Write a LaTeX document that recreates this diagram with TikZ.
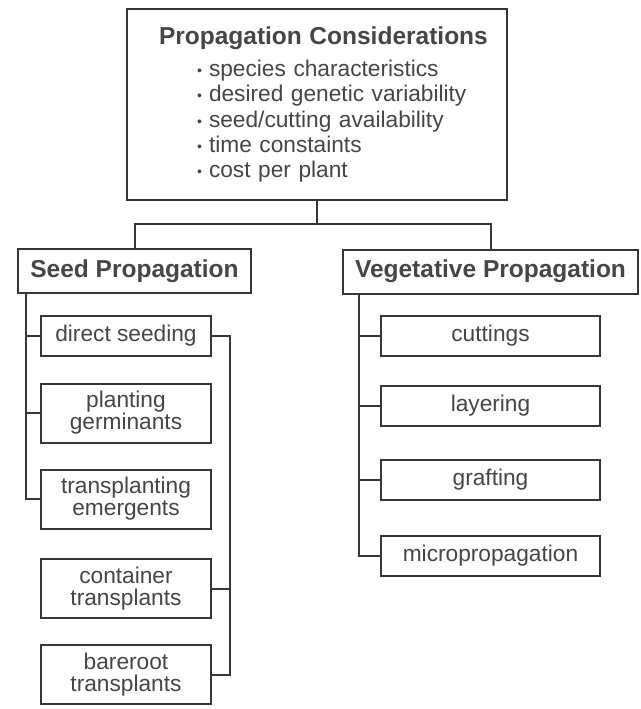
\documentclass[tikz,border=0pt]{standalone}
\usepackage{fontspec}
\setmainfont{Liberation Sans}
\usepackage{xcolor}
\usepackage{tikz}
\definecolor{inkcolor}{RGB}{55,55,55}
\definecolor{labelcolor}{RGB}{70,70,70}
\newcommand{\pbul}{\makebox[12pt][l]{\raisebox{1pt}{\fontsize{14}{14}\selectfont\textbullet}}}

\begin{document}
\begin{tikzpicture}[
    x=1pt, y=1pt,
    box/.style={draw=inkcolor, line width=2pt, fill=white, text=labelcolor, inner sep=0pt, align=center},
    topbox/.style={box, minimum width=380pt, minimum height=191pt, text width=360pt, align=left, font=\fontsize{22.7}{25.3}\selectfont},
    header/.style={box, minimum height=44pt, font=\bfseries\fontsize{24.5}{28}\selectfont},
    seeditem/.style={box, minimum width=170pt, minimum height=40pt, font=\fontsize{22.7}{22}\selectfont},
    twoline/.style={seeditem, minimum height=59pt},
    vegitem/.style={box, minimum width=219pt, minimum height=40pt, font=\fontsize{22.7}{22}\selectfont},
    link/.style={draw=inkcolor, line width=2pt}
]
    \useasboundingbox (0,0) rectangle (640,-709);

    % Considerations
    \node[topbox] (cons) at (317,-104.5) {\hspace*{22pt}{\bfseries\fontsize{24.5}{28}\selectfont Propagation Considerations}\\[6.7pt]
        \hspace*{60pt}\pbul species characteristics\\
        \hspace*{60pt}\pbul desired genetic variability\\
        \hspace*{60pt}\pbul seed/cutting availability\\
        \hspace*{60pt}\pbul time constaints\\
        \hspace*{60pt}\pbul cost per plant};

    % Headers
    \node[header, minimum width=233pt] (seed) at (134.5,-271) {Seed Propagation};
    \node[header, minimum width=295pt] (veg) at (490.5,-271.5) {Vegetative Propagation};

    % Seed methods
    \node[seeditem] (direct) at (126,-336) {direct seeding};
    \node[twoline] (plant) at (126,-413) {planting\\germinants};
    \node[twoline] (trans) at (126,-499) {transplanting\\emergents};
    \node[twoline] (cont) at (126,-588.5) {container\\transplants};
    \node[twoline] (bare) at (126,-674.5) {bareroot\\transplants};

    % Vegetative methods
    \node[vegitem] (cuttings) at (490.5,-336) {cuttings};
    \node[vegitem] (layering) at (490.5,-406) {layering};
    \node[vegitem] (grafting) at (490.5,-480) {grafting};
    \node[vegitem] (micro) at (490.5,-556) {micropropagation};

    % Branches
    \draw[link] (cons.south) -- ++(0,-23) -| (seed.north);
    \draw[link] (cons.south) -- ++(0,-23) -| (veg.north);
    \foreach \n in {direct, plant, trans}
        \draw[link] ([xshift=9pt]seed.south west) |- (\n.west);
    \draw[link] (direct.east) -- ++(18,0) |- (bare.east);
    \draw[link] (cont.east) -- ++(18,0);
    \foreach \n in {cuttings, layering, grafting, micro}
        \draw[link] ([xshift=17pt]veg.south west) |- (\n.west);
\end{tikzpicture}
\end{document}
